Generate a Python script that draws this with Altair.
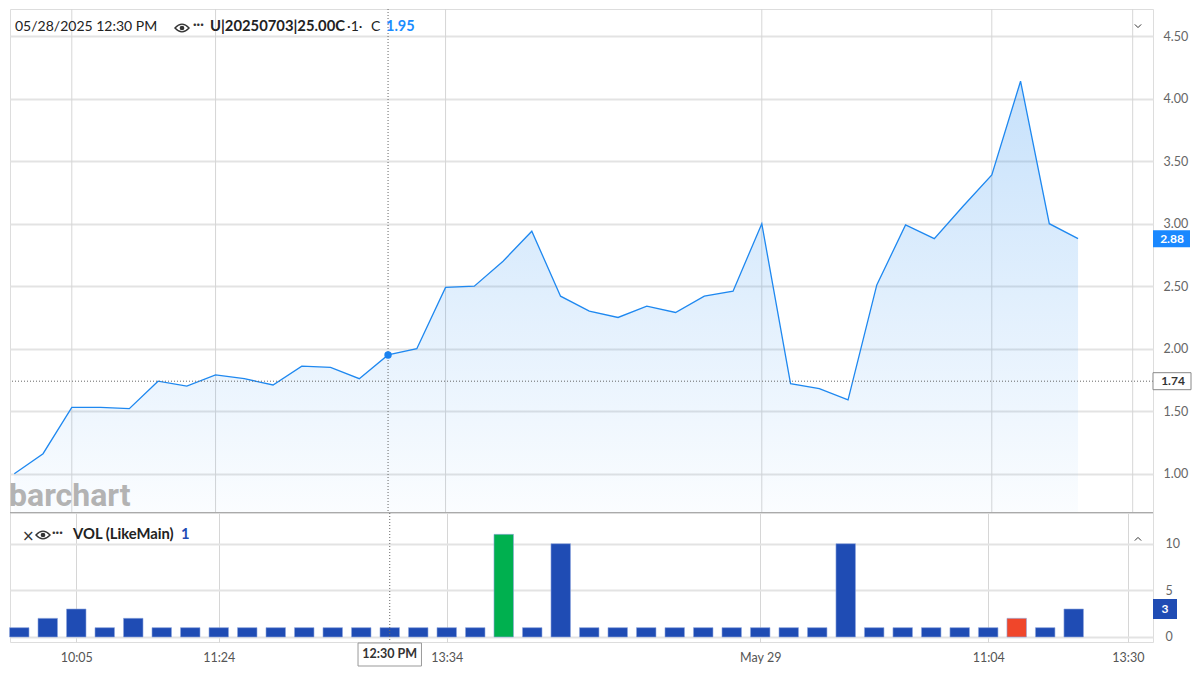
import altair as alt
import pandas as pd

# ---------------- data ----------------
price = [1.00, 1.16, 1.53, 1.53, 1.52, 1.74, 1.70, 1.79, 1.76, 1.71,
         1.86, 1.85, 1.76, 1.95, 2.00, 2.49, 2.50, 2.70, 2.94, 2.42,
         2.30, 2.25, 2.34, 2.29, 2.42, 2.46, 3.00, 1.72, 1.68, 1.59,
         2.51, 2.99, 2.88, 3.14, 3.39, 4.14, 3.00, 2.88]
volume = [1, 2, 3, 1, 2, 1, 1, 1, 1, 1,
          1, 1, 1, 1, 1, 1, 1, 11, 1, 10,
          1, 1, 1, 1, 1, 1, 1, 1, 1, 10,
          1, 1, 1, 1, 1, 2, 1, 3]
vol_kind = ["flat"] * 38
vol_kind[17] = "up"
vol_kind[35] = "down"

tick_pos = [2, 7, 15, 26, 34, 38.9]
tick_labels = ["10:05", "11:24", "13:34", "May 29", "11:04", "13:30"]
price_ticks = [1.0, 1.5, 2.0, 2.5, 3.0, 3.5, 4.0, 4.5]
vol_ticks = [0, 5, 10]
cross_idx = 13
cross_label = "12:30 PM"
cross_level = 1.74
last_price = 2.88
last_vol = 3

df = pd.DataFrame({"i": list(range(len(price))), "price": price,
                   "vol": volume, "kind": vol_kind})

# ---------------- layout ----------------
W, H1, H2 = 1143, 504, 129
XDOM = [-0.1496, 39.607]
PDOM = [0.6856, 4.7176]
VDOM = [-0.536, 13.29]
FONT = "Lato"
BLUE = "#1e88f0"
VBLUE = "#1f4cb4"

xs = alt.Scale(domain=XDOM, nice=False, zero=False)
ps = alt.Scale(domain=PDOM, nice=False, zero=False)
vs = alt.Scale(domain=VDOM, nice=False, zero=False)

price_axis = alt.Axis(values=price_ticks, format=".2f", orient="right", grid=True,
                      gridColor="#e3e3e3", gridWidth=2, ticks=False, domain=False,
                      labelPadding=10, labelFontSize=12.5, labelColor="#666",
                      labelFont=FONT, title=None, zindex=0)
vol_axis = alt.Axis(values=vol_ticks, orient="right", grid=True,
                    gridColor="#e3e3e3", gridWidth=2, ticks=False, domain=False,
                    labelPadding=12, labelFontSize=12.5, labelColor="#666",
                    labelFont=FONT, title=None, zindex=0)
expr = " : ".join(f"datum.value == {p} ? '{l}'" for p, l in zip(tick_pos, tick_labels)) + " : ''"
x_axis = alt.Axis(values=tick_pos, labelExpr=expr, grid=True, gridColor="#d6d6d6",
                  gridWidth=1, ticks=False, domain=False, labelPadding=9,
                  labelFontSize=12.5, labelColor="#555", labelFont=FONT,
                  title=None, zindex=0)

EYE = "M -1 0 Q 0 -1.1 1 0 Q 0 1.1 -1 0 Z"
CHEV_DOWN = "M -1 -0.5 L 0 0.5 L 1 -0.5"
CHEV_UP = "M -1 0.5 L 0 -0.5 L 1 0.5"


def txt(text, x, y, size=14, weight="normal", color="#222", align="left",
        font=FONT, baseline="middle"):
    return alt.Chart(pd.DataFrame({"t": [text]})).mark_text(
        align=align, baseline=baseline, fontSize=size, fontWeight=weight,
        color=color, font=font).encode(x=alt.value(x), y=alt.value(y), text="t:N")


def sym(shape, x, y, size, filled=False, color="#333", sw=1.2):
    m = alt.Chart(pd.DataFrame({"a": [0]}))
    if filled:
        mk = m.mark_point(shape=shape, size=size, filled=True, color=color, opacity=1)
    else:
        mk = m.mark_point(shape=shape, size=size, filled=False, color=color,
                          strokeWidth=sw, opacity=1)
    return mk.encode(x=alt.value(x), y=alt.value(y))


def eye(x, y):
    return [sym(EYE, x, y, 200, sw=1.3), sym("circle", x, y, 22, filled=True)]


# ---------------- price panel ----------------
base = alt.Chart(df)
X = alt.X("i:Q", scale=xs, axis=None)
Yp = alt.Y("price:Q", scale=ps, axis=price_axis)

vgrid = alt.Chart(pd.DataFrame({"g": tick_pos})).mark_rule(
    color="#d6d6d6", strokeWidth=1).encode(x=alt.X("g:Q", scale=xs, axis=None))

grad = alt.Gradient(gradient="linear",
                    stops=[alt.GradientStop(color="rgba(30,136,240,0.25)", offset=0),
                           alt.GradientStop(color="rgba(30,136,240,0.12)", offset=0.55),
                           alt.GradientStop(color="rgba(30,136,240,0.02)", offset=1)],
                    x1=1, x2=1, y1=0, y2=1)
area = base.mark_area(color=grad).encode(x=X, y=Yp, y2=alt.datum(PDOM[0]))
line = base.mark_line(color=BLUE, strokeWidth=1.3).encode(x=X, y=Yp)

hcross = alt.Chart(pd.DataFrame({"v": [cross_level]})).mark_rule(
    color="#666", strokeDash=[1, 2], strokeWidth=1).encode(
    y=alt.Y("v:Q", scale=ps, axis=price_axis))
vcross = alt.Chart(pd.DataFrame({"c": [cross_idx]})).mark_rule(
    color="#666", strokeDash=[1, 2], strokeWidth=1).encode(
    x=alt.X("c:Q", scale=xs, axis=None))
dot = base.transform_filter(alt.datum.i == cross_idx).mark_circle(
    size=55, color="#1a82f0", opacity=1).encode(x=X, y=Yp)

sep = alt.Chart(pd.DataFrame({"a": [0]})).mark_rule(
    color="#aaaaaa", strokeWidth=2).encode(
    x=alt.value(0), x2=alt.value(W), y=alt.value(H1))

half_p = 8.5 / 125
last_df = pd.DataFrame({"v": [last_price]})
last_box = alt.Chart(last_df).transform_calculate(
    top=f"datum.v + {half_p}", bot=f"datum.v - {half_p}").mark_rect(
    color="#1a88ff").encode(x=alt.value(W), x2=alt.value(W + 37),
                            y=alt.Y("top:Q", scale=ps, axis=price_axis), y2="bot:Q")
last_txt = alt.Chart(last_df).mark_text(
    color="white", fontWeight="bold", fontSize=12, font=FONT, align="center",
    baseline="middle").encode(x=alt.value(W + 19),
                              y=alt.Y("v:Q", scale=ps, axis=price_axis),
                              text=alt.Text("v:Q", format=".2f"))
cl_df = pd.DataFrame({"v": [cross_level]})
cl_box = alt.Chart(cl_df).transform_calculate(
    top=f"datum.v + {half_p}", bot=f"datum.v - {half_p}").mark_rect(
    fill="white", stroke="#888", strokeWidth=1).encode(
    x=alt.value(W), x2=alt.value(W + 38),
    y=alt.Y("top:Q", scale=ps, axis=price_axis), y2="bot:Q")
cl_txt = alt.Chart(cl_df).mark_text(
    color="#333", fontWeight="bold", fontSize=12, font=FONT, align="center",
    baseline="middle").encode(x=alt.value(W + 20),
                              y=alt.Y("v:Q", scale=ps, axis=price_axis),
                              text=alt.Text("v:Q", format=".2f"))

header = [
    txt("05/28/2025 12:30 PM", 5, 18),
    *eye(172, 19),
    txt("···", 183, 16, size=13, weight="bold", color="#333"),
    txt("U|20250703|25.00C", 200, 18, size=14.8, weight="bold"),
    txt("·1·", 337, 18),
    txt("C", 361, 18),
    txt("1.95", 376, 18, size=14.5, weight="bold", color="#1a8cff"),
    sym(CHEV_DOWN, 1128, 17, 40, sw=1),
    txt("barchart", -1, 497, size=32, weight="bold", color="#b3b3b3",
        font="Roboto", baseline="alphabetic"),
]

price_chart = alt.layer(vgrid, area, line, hcross, vcross, dot, sep,
                        cl_box, cl_txt, last_box, last_txt, *header).properties(
    width=W, height=H1)

# ---------------- volume panel ----------------
Xv = alt.X("i:Q", scale=xs, axis=x_axis)
bars = base.mark_bar(size=19.5, stroke="#8ea6dd", strokeWidth=0.6).encode(
    x=Xv, y=alt.Y("vol:Q", scale=vs, axis=vol_axis), y2=alt.datum(0),
    color=alt.Color("kind:N", scale=alt.Scale(domain=["up", "down", "flat"],
                                              range=["#00b04f", "#f0462a", VBLUE]),
                    legend=None))
vcross2 = alt.Chart(pd.DataFrame({"c": [cross_idx]})).mark_rule(
    color="#666", strokeDash=[1, 2], strokeWidth=1).encode(
    x=alt.X("c:Q", scale=xs, axis=x_axis), y=alt.value(0), y2=alt.value(H2))

half_v = 10 / 9.33
lv_df = pd.DataFrame({"v": [last_vol]})
lv_box = alt.Chart(lv_df).transform_calculate(
    top=f"datum.v + {half_v}", bot=f"datum.v - {half_v}").mark_rect(
    color=VBLUE).encode(x=alt.value(W), x2=alt.value(W + 24),
                        y=alt.Y("top:Q", scale=vs, axis=vol_axis), y2="bot:Q")
lv_txt = alt.Chart(lv_df).mark_text(
    color="white", fontWeight="bold", fontSize=12, font=FONT, align="center",
    baseline="middle").encode(x=alt.value(W + 12),
                              y=alt.Y("v:Q", scale=vs, axis=vol_axis), text="v:Q")

half_x = 32 / 28.75
cb_df = pd.DataFrame({"c": [cross_idx], "t": [cross_label]})
cross_box = alt.Chart(cb_df).transform_calculate(
    lo=f"datum.c - {half_x}", hi=f"datum.c + {half_x}").mark_rect(
    fill="white", stroke="#999", strokeWidth=1).encode(
    x=alt.X("lo:Q", scale=xs, axis=x_axis), x2="hi:Q",
    y=alt.value(H2 + 1), y2=alt.value(H2 + 24))
cross_txt = alt.Chart(cb_df).mark_text(
    color="#333", fontWeight="bold", fontSize=12.5, font=FONT, align="center",
    baseline="middle").encode(x=alt.X("c:Q", scale=xs, axis=x_axis),
                              y=alt.value(H2 + 12), text="t:N")

vheader = [
    txt("×", 12, 23, size=15, color="#333", font="DejaVu Sans"),
    *eye(33, 22),
    txt("···", 42, 20, size=13, weight="bold", color="#333"),
    txt("VOL (LikeMain)", 63, 22, size=14.8, weight="bold"),
    txt("1", 171, 22, size=14.8, weight="bold", color="#1f4cb4"),
    sym(CHEV_UP, 1128, 26, 40, sw=1),
]

vol_chart = alt.layer(bars, vcross2, lv_box, lv_txt, cross_box, cross_txt,
                      *vheader).properties(width=W, height=H2)

chart = alt.vconcat(price_chart, vol_chart, spacing=0, bounds="flush").properties(
    padding=0).configure_view(stroke="#d0d0d0", strokeWidth=1).configure(
    font=FONT)

chart.save("out.html", embed_options={"renderer": "svg", "actions": False})
